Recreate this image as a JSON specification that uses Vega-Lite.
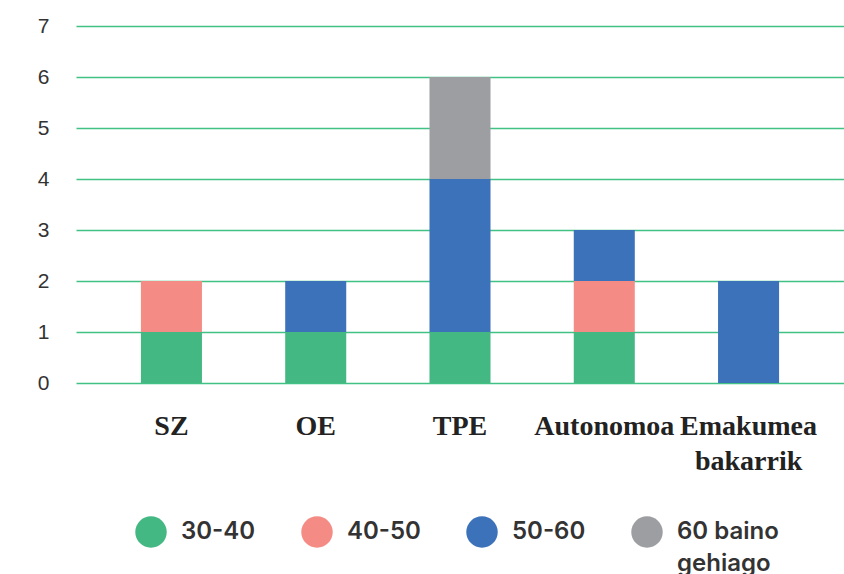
{
  "$schema": "https://vega.github.io/schema/vega-lite/v6.json",
  "width": 768,
  "height": 357,
  "autosize": {"type": "none"},
  "padding": {"left": 76, "top": 26, "right": 0, "bottom": 191},
  "background": "white",
  "data": {
    "values": [
      {"category": "SZ", "group": "30-40", "value": 1},
      {"category": "SZ", "group": "40-50", "value": 1},
      {"category": "OE", "group": "30-40", "value": 1},
      {"category": "OE", "group": "50-60", "value": 1},
      {"category": "TPE", "group": "30-40", "value": 1},
      {"category": "TPE", "group": "50-60", "value": 3},
      {"category": "TPE", "group": "60 baino gehiago", "value": 2},
      {"category": "Autonomoa", "group": "30-40", "value": 1},
      {"category": "Autonomoa", "group": "40-50", "value": 1},
      {"category": "Autonomoa", "group": "50-60", "value": 1},
      {"category": "Emakumea bakarrik", "group": "50-60", "value": 2}
    ]
  },
  "mark": {"type": "bar"},
  "encoding": {
    "x": {
      "field": "category",
      "type": "nominal",
      "sort": ["SZ", "OE", "TPE", "Autonomoa", "Emakumea bakarrik"],
      "scale": {"paddingInner": 0.577, "paddingOuter": 0.45},
      "axis": {
        "title": null,
        "domain": false,
        "ticks": false,
        "tickSize": 0,
        "labelAngle": 0,
        "labelPadding": 29,
        "labelFont": "Liberation Serif",
        "labelFontWeight": "bold",
        "labelFontSize": 28,
        "labelColor": "#222222",
        "labelLineHeight": 35,
        "labelBaseline": "top",
        "labelExpr": "split(datum.label, ' ')"
      }
    },
    "y": {
      "field": "value",
      "type": "quantitative",
      "aggregate": "sum",
      "stack": "zero",
      "scale": {"domain": [0, 7], "nice": false},
      "axis": {
        "title": null,
        "values": [0, 1, 2, 3, 4, 5, 6, 7],
        "domain": false,
        "ticks": false,
        "tickSize": 0,
        "labelPadding": 27,
        "labelFont": "Liberation Sans",
        "labelFontSize": 21,
        "labelColor": "#333333",
        "grid": true,
        "gridColor": "#41c184",
        "gridWidth": 1.5
      }
    },
    "color": {
      "field": "group",
      "type": "nominal",
      "scale": {
        "domain": ["30-40", "40-50", "50-60", "60 baino gehiago"],
        "range": ["#43b883", "#f48c85", "#3b72b9", "#9d9ea2"]
      },
      "legend": {
        "title": null,
        "orient": "none",
        "direction": "horizontal",
        "legendX": 59,
        "legendY": 490,
        "padding": 0,
        "symbolType": "circle",
        "symbolSize": 990,
        "symbolStrokeWidth": 0,
        "labelOffset": 14,
        "columnPadding": 45,
        "labelFont": "Inter",
        "labelFontWeight": 600,
        "labelFontSize": 24,
        "labelColor": "#333333",
        "labelLimit": 300,
        "labelExpr": "datum.label == '60 baino gehiago' ? ['60 baino', 'gehiago'] : [datum.label, '']",
        "encoding": {"labels": {"lineHeight": {"value": 32}}}
      }
    },
    "order": {"field": "group", "sort": "ascending"}
  },
  "config": {"view": {"stroke": null}}
}
